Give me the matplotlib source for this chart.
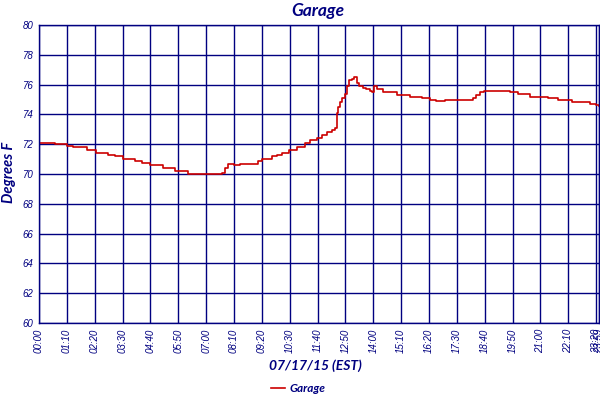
import matplotlib
matplotlib.use("Agg")
import matplotlib.pyplot as plt

NAVY = "#000080"
RED = "#CC0000"

# time in minutes since 00:00, temperature in deg F
minutes = [0, 40, 70, 85, 121, 143, 173, 191, 211, 241, 260, 279, 312, 342, 374,
           460, 467, 475, 490, 505, 550, 560, 586, 598, 611, 628, 648, 668, 681,
           699, 711, 724, 736, 744, 749, 751, 756, 761, 769, 774, 779, 787, 792,
           799, 804, 814, 822, 832, 837, 842, 849, 864, 900, 932, 963, 983, 998,
           1020, 1083, 1091, 1098, 1108, 1118, 1184, 1204, 1234, 1279, 1304, 1339,
           1385, 1400, 1407]
temps = [72.1, 72.0, 71.9, 71.8, 71.6, 71.4, 71.3, 71.2, 71.0, 70.9, 70.75, 70.6,
         70.4, 70.2, 70.0, 70.1, 70.4, 70.7, 70.6, 70.7, 70.85, 71.0, 71.2, 71.3,
         71.4, 71.6, 71.8, 72.1, 72.25, 72.4, 72.6, 72.8, 72.95, 73.1, 74.1, 74.5,
         74.8, 75.1, 75.4, 75.9, 76.3, 76.35, 76.5, 76.1, 75.9, 75.8, 75.7, 75.6,
         75.5, 75.9, 75.7, 75.5, 75.3, 75.15, 75.1, 75.0, 74.9, 75.0, 75.0, 75.1,
         75.3, 75.5, 75.6, 75.5, 75.35, 75.2, 75.1, 75.0, 74.85, 74.7, 74.6, 74.55]

tick_pos = [0, 70, 140, 210, 280, 350, 420, 490, 560, 630, 700, 770, 840, 910,
            980, 1050, 1120, 1190, 1260, 1330, 1400, 1407]
tick_labels = ["00:00", "01:10", "02:20", "03:30", "04:40", "05:50", "07:00",
               "08:10", "09:20", "10:30", "11:40", "12:50", "14:00", "15:10",
               "16:20", "17:30", "18:40", "19:50", "21:00", "22:10", "23:20", "23:59"]
y_ticks = [60, 62, 64, 66, 68, 70, 72, 74, 76, 78, 80]

title = "Garage"
x_label = "07/17/15 (EST)"
y_label = "Degrees F"

fig = plt.figure(figsize=(6, 4), dpi=100)
ax = fig.add_axes([39 / 600, 1 - 323 / 400, 560 / 600, 298 / 400])

ax.step(minutes, temps, where="post", color=RED, linewidth=1.2, label="Garage")
ax.set_xlim(0, 1407)
ax.set_ylim(60, 80)
ax.set_xticks(tick_pos)
ax.set_xticklabels(tick_labels, rotation=90, fontsize=7, style="italic",
                   color=NAVY, family="Liberation Sans")
ax.set_yticks(y_ticks)
ax.set_yticklabels([str(v) for v in y_ticks], fontsize=7, style="italic",
                   color=NAVY, family="Liberation Sans")
ax.tick_params(length=0, pad=4)
ax.grid(True, color=NAVY, linewidth=1.0)
ax.set_axisbelow(True)
for s in ax.spines.values():
    s.set_color(NAVY)
    s.set_linewidth(1.0)

hfont = dict(family="Lato", weight="bold", style="italic", color=NAVY)
fig.text(318 / 600, 1 - 11 / 400, title, ha="center", va="center", fontsize=12.5, **hfont)
fig.text(9 / 600, 1 - 172 / 400, y_label, ha="center", va="center", rotation=90,
         fontsize=10.5, **hfont)
fig.text(315 / 600, 1 - 366 / 400, x_label, ha="center", va="center", fontsize=10, **hfont)

leg = fig.legend(loc="center", bbox_to_anchor=(298 / 600, 1 - 389 / 400), frameon=False,
                 handlelength=1.2, handletextpad=0.4, borderpad=0,
                 prop=dict(family="Lato", weight="bold", style="italic", size=8.5))
for t in leg.get_texts():
    t.set_color(NAVY)

fig.savefig("out.png", dpi=100)
